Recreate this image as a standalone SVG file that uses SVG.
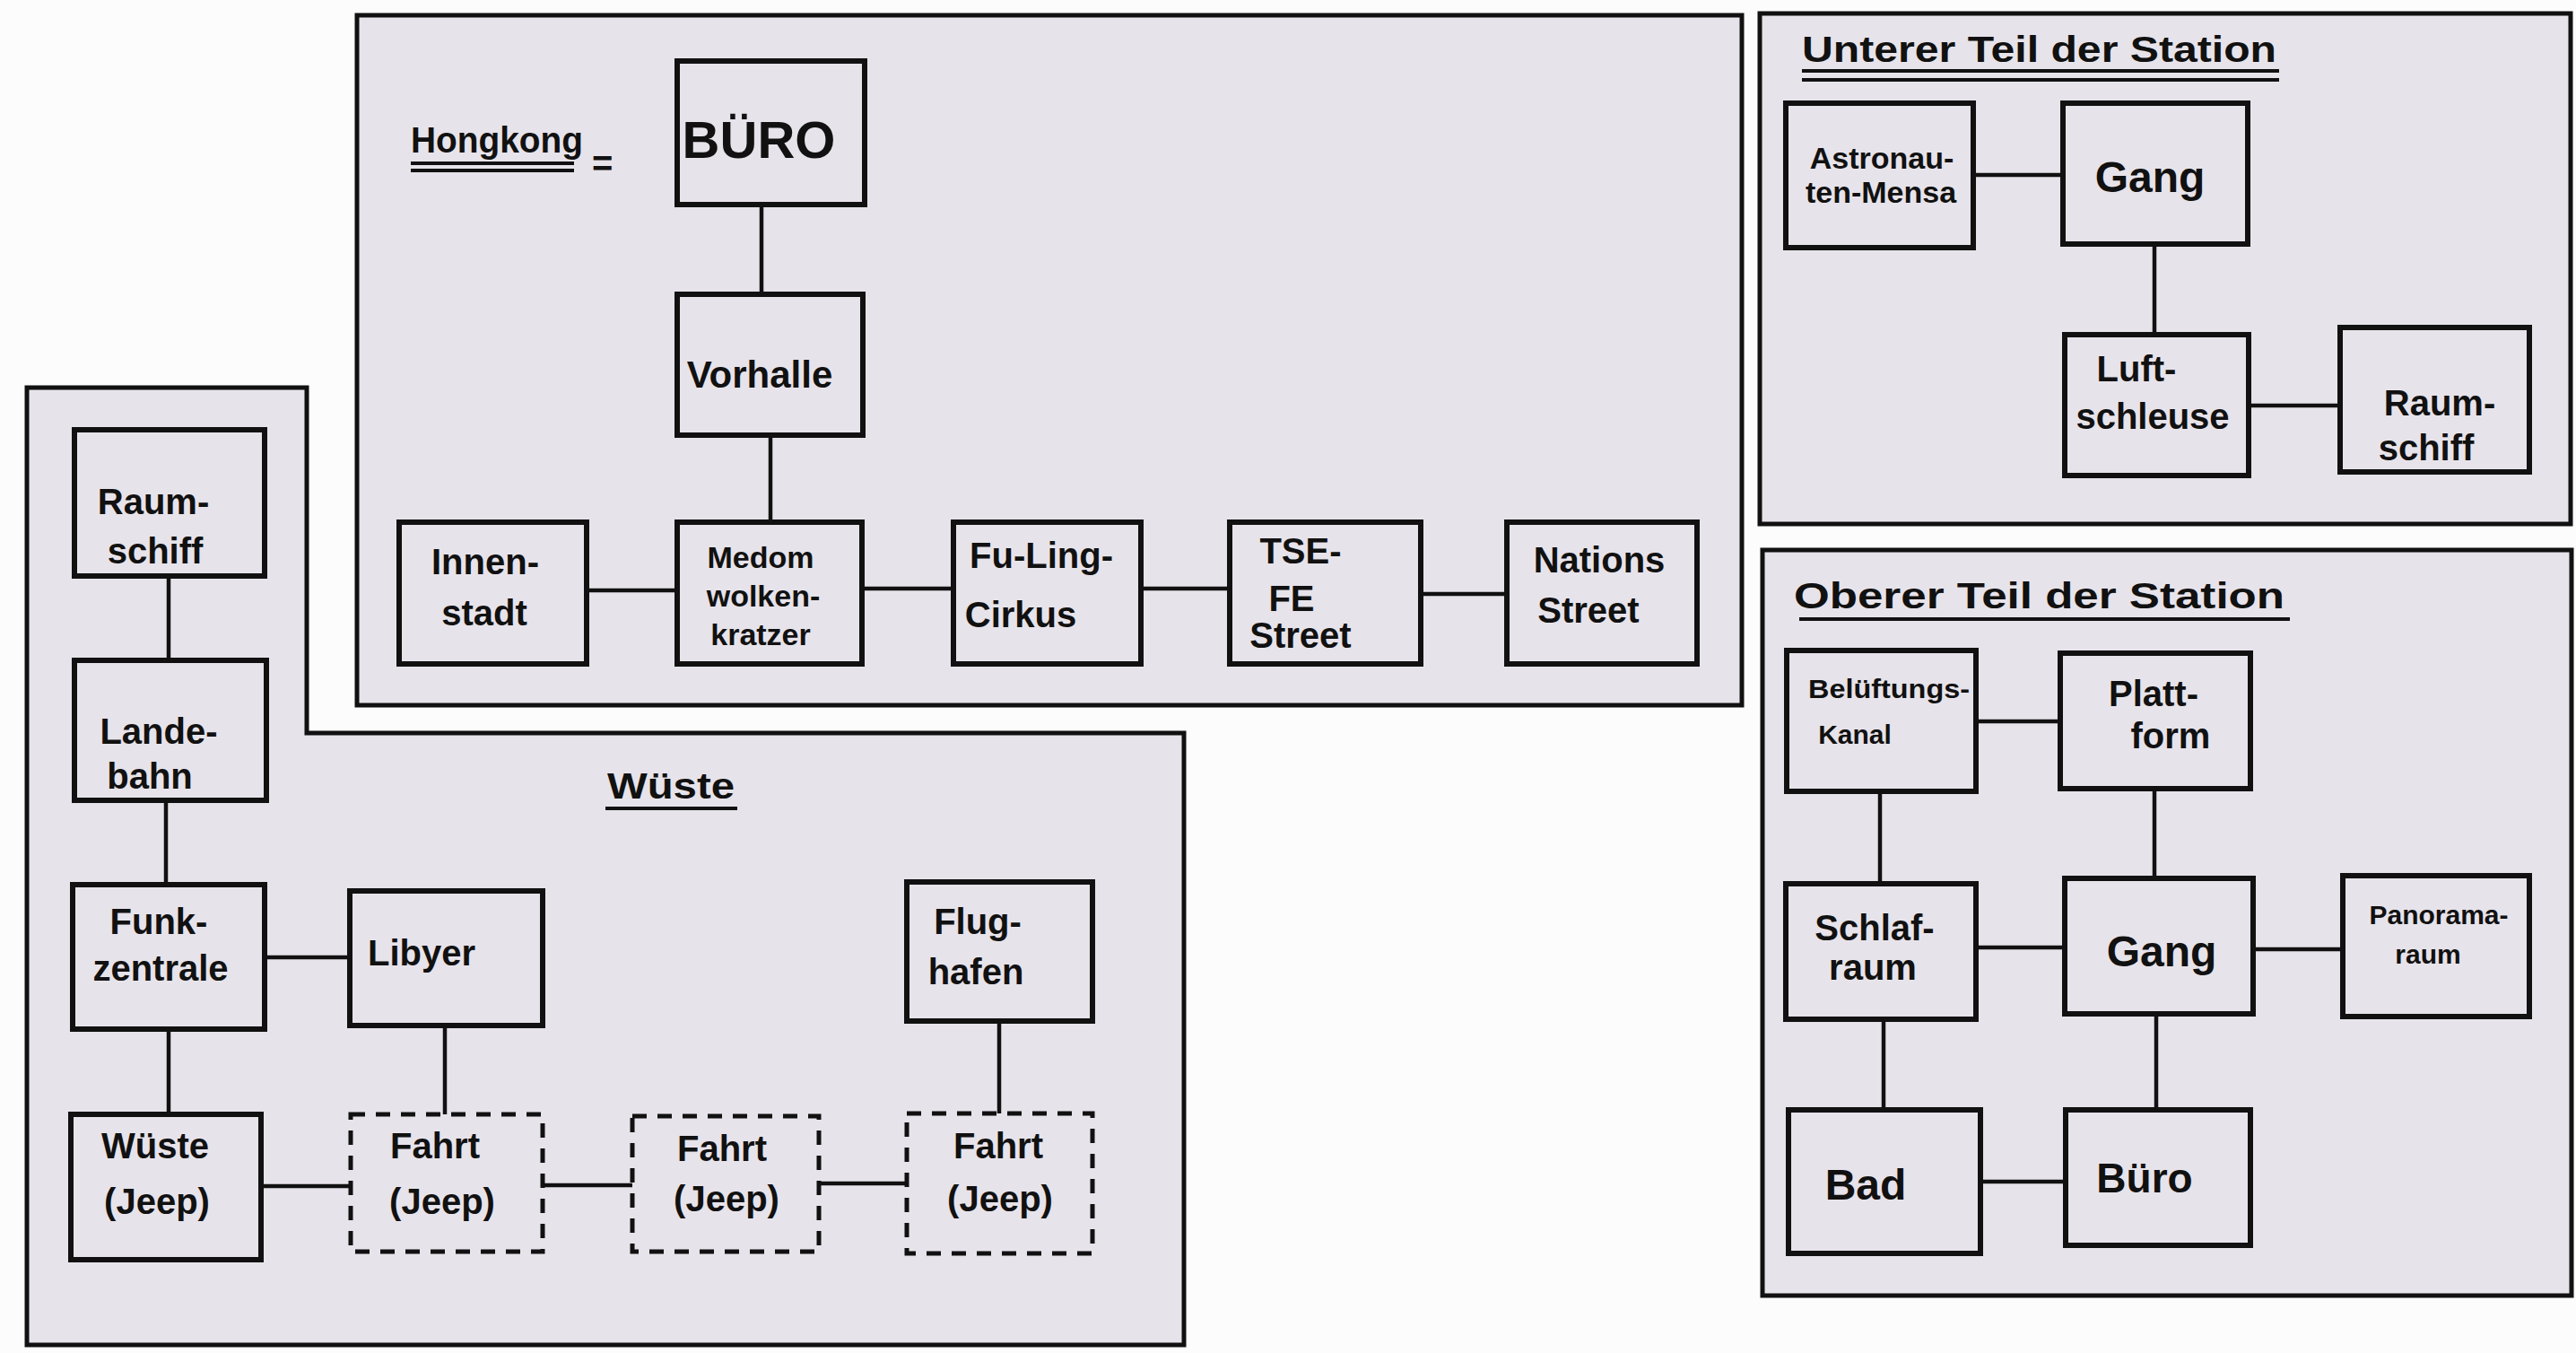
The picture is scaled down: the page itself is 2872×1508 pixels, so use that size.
<svg xmlns="http://www.w3.org/2000/svg" width="2872" height="1508" viewBox="0 0 2872 1508">
<style>
.panel{fill:#e7e3ea;stroke:#111;stroke-width:5}
.box{fill:none;stroke:#111;stroke-width:6}
.dash{fill:none;stroke:#111;stroke-width:5;stroke-dasharray:16 12}
.con line{stroke:#111;stroke-width:4.5}
.ul{stroke:#111;stroke-width:4}
text{font-family:"Liberation Sans","DejaVu Sans",sans-serif;font-weight:bold;fill:#111;text-anchor:middle}
.t{font-size:40px}
.s{font-size:34px}
.xs{font-size:30px}
.big{font-size:48px}
.hd{font-size:40px;text-anchor:start}
</style>
<rect width="2872" height="1508" fill="#fcfcfc"/>
<g id="panels">
<rect id="panel-hongkong" class="panel" x="398" y="17" width="1544" height="769"/>
<polygon id="panel-wueste" class="panel" points="30,432 342,432 342,817 1320,817 1320,1499 30,1499"/>
<rect id="panel-unterer" class="panel" x="1962" y="15" width="904" height="569"/>
<rect id="panel-oberer" class="panel" x="1965" y="613" width="902" height="831"/>
</g>
<g id="titles">
<text class="hd" x="458" y="170" textLength="192" lengthAdjust="spacingAndGlyphs">Hongkong</text>
<text class="hd" x="660" y="196" font-size="40">=</text>
<line class="ul" x1="458" y1="182" x2="640" y2="182"/>
<line class="ul" x1="458" y1="190" x2="640" y2="190"/>
<text class="hd" x="677" y="890" textLength="142" lengthAdjust="spacingAndGlyphs">Wüste</text>
<line class="ul" x1="675" y1="901" x2="822" y2="901"/>
<text class="hd" x="2009" y="69" textLength="529" lengthAdjust="spacingAndGlyphs">Unterer Teil der Station</text>
<line class="ul" x1="2009" y1="79" x2="2541" y2="79"/>
<line class="ul" x1="2009" y1="89" x2="2541" y2="89"/>
<text class="hd" x="2000" y="678" textLength="547" lengthAdjust="spacingAndGlyphs">Oberer Teil der Station</text>
<line class="ul" x1="2006" y1="690" x2="2553" y2="690"/>
</g>
<g id="connectors" class="con">
<line x1="849" y1="228" x2="849" y2="328"/>
<line x1="859" y1="485" x2="859" y2="582"/>
<line x1="654" y1="658" x2="755" y2="658"/>
<line x1="961" y1="656" x2="1063" y2="656"/>
<line x1="1272" y1="656" x2="1371" y2="656"/>
<line x1="1584" y1="662" x2="1680" y2="662"/>
<line x1="188" y1="642" x2="188" y2="736"/>
<line x1="185" y1="892" x2="185" y2="986"/>
<line x1="295" y1="1067" x2="390" y2="1067"/>
<line x1="188" y1="1147" x2="188" y2="1242"/>
<line x1="496" y1="1143" x2="496" y2="1242"/>
<line x1="1114" y1="1138" x2="1114" y2="1241"/>
<line x1="291" y1="1322" x2="391" y2="1322"/>
<line x1="605" y1="1321" x2="705" y2="1321"/>
<line x1="913" y1="1319" x2="1011" y2="1319"/>
<line x1="2200" y1="195" x2="2300" y2="195"/>
<line x1="2402" y1="272" x2="2402" y2="373"/>
<line x1="2507" y1="452" x2="2609" y2="452"/>
<line x1="2203" y1="804" x2="2297" y2="804"/>
<line x1="2096" y1="882" x2="2096" y2="985"/>
<line x1="2402" y1="879" x2="2402" y2="979"/>
<line x1="2203" y1="1056" x2="2302" y2="1056"/>
<line x1="2512" y1="1058" x2="2612" y2="1058"/>
<line x1="2100" y1="1136" x2="2100" y2="1237"/>
<line x1="2404" y1="1130" x2="2404" y2="1237"/>
<line x1="2208" y1="1317" x2="2303" y2="1317"/>
</g>
<g id="hk-buero"><rect class="box" x="755" y="68" width="209" height="160"/><text x="846" y="176" font-size="58">BÜRO</text></g>
<g id="hk-vorhalle"><rect class="box" x="755" y="328" width="207" height="157"/><text x="847" y="432" font-size="42">Vorhalle</text></g>
<g id="hk-innenstadt"><rect class="box" x="445" y="582" width="209" height="158"/><text class="t" x="541" y="640">Innen-</text><text class="t" x="540" y="697">stadt</text></g>
<g id="hk-medom"><rect class="box" x="755" y="582" width="206" height="158"/><text class="s" x="848" y="633">Medom</text><text class="s" x="851" y="676">wolken-</text><text class="s" x="848" y="719">kratzer</text></g>
<g id="hk-fuling"><rect class="box" x="1063" y="582" width="209" height="158"/><text class="t" x="1161" y="633">Fu-Ling-</text><text class="t" x="1138" y="699">Cirkus</text></g>
<g id="hk-tsefe"><rect class="box" x="1371" y="582" width="213" height="158"/><text class="t" x="1450" y="628">TSE-</text><text class="t" x="1440" y="681">FE</text><text class="t" x="1450" y="722">Street</text></g>
<g id="hk-nations"><rect class="box" x="1680" y="582" width="212" height="158"/><text class="t" x="1783" y="638">Nations</text><text class="t" x="1771" y="694">Street</text></g>
<g id="w-raumschiff"><rect class="box" x="83" y="479" width="212" height="163"/><text class="t" x="171" y="573">Raum-</text><text class="t" x="173" y="628">schiff</text></g>
<g id="w-landebahn"><rect class="box" x="83" y="736" width="214" height="156"/><text class="t" x="177" y="829">Lande-</text><text class="t" x="167" y="879">bahn</text></g>
<g id="w-funkzentrale"><rect class="box" x="81" y="986" width="214" height="161"/><text class="t" x="177" y="1041">Funk-</text><text class="t" x="179" y="1093">zentrale</text></g>
<g id="w-libyer"><rect class="box" x="390" y="993" width="215" height="150"/><text class="t" x="470" y="1076">Libyer</text></g>
<g id="w-flughafen"><rect class="box" x="1011" y="983" width="207" height="155"/><text class="t" x="1090" y="1041">Flug-</text><text class="t" x="1088" y="1097">hafen</text></g>
<g id="w-wueste-jeep"><rect class="box" x="79" y="1242" width="212" height="162"/><text class="t" x="173" y="1291">Wüste</text><text class="t" x="175" y="1353">(Jeep)</text></g>
<g id="w-fahrt1"><rect class="dash" x="391" y="1242" width="214" height="153"/><text class="t" x="485" y="1291">Fahrt</text><text class="t" x="493" y="1353">(Jeep)</text></g>
<g id="w-fahrt2"><rect class="dash" x="705" y="1244" width="208" height="151"/><text class="t" x="805" y="1294">Fahrt</text><text class="t" x="810" y="1350">(Jeep)</text></g>
<g id="w-fahrt3"><rect class="dash" x="1011" y="1241" width="207" height="156"/><text class="t" x="1113" y="1291">Fahrt</text><text class="t" x="1115" y="1350">(Jeep)</text></g>
<g id="u-mensa"><rect class="box" x="1991" y="115" width="209" height="161"/><text class="s" x="2098" y="188">Astronau-</text><text class="s" x="2097" y="226">ten-Mensa</text></g>
<g id="u-gang"><rect class="box" x="2300" y="115" width="206" height="157"/><text class="big" x="2397" y="214">Gang</text></g>
<g id="u-luftschleuse"><rect class="box" x="2302" y="373" width="205" height="157"/><text class="t" x="2382" y="425">Luft-</text><text class="t" x="2400" y="478">schleuse</text></g>
<g id="u-raumschiff"><rect class="box" x="2609" y="365" width="211" height="161"/><text class="t" x="2720" y="463">Raum-</text><text class="t" x="2705" y="513">schiff</text></g>
<g id="o-belueftung"><rect class="box" x="1992" y="725" width="211" height="157"/><text class="xs" x="2106" y="778" textLength="180" lengthAdjust="spacingAndGlyphs">Belüftungs-</text><text class="xs" x="2068" y="829">Kanal</text></g>
<g id="o-plattform"><rect class="box" x="2297" y="728" width="212" height="151"/><text class="t" x="2401" y="787">Platt-</text><text class="t" x="2420" y="834">form</text></g>
<g id="o-schlafraum"><rect class="box" x="1991" y="985" width="212" height="151"/><text class="t" x="2090" y="1048">Schlaf-</text><text class="t" x="2088" y="1092">raum</text></g>
<g id="o-gang"><rect class="box" x="2302" y="979" width="210" height="151"/><text class="big" x="2410" y="1077">Gang</text></g>
<g id="o-panorama"><rect class="box" x="2612" y="976" width="208" height="157"/><text class="xs" x="2719" y="1030">Panorama-</text><text class="xs" x="2707" y="1074">raum</text></g>
<g id="o-bad"><rect class="box" x="1994" y="1237" width="214" height="160"/><text class="big" x="2080" y="1337">Bad</text></g>
<g id="o-buero"><rect class="box" x="2303" y="1237" width="206" height="151"/><text x="2391" y="1329" font-size="46">Büro</text></g>
</svg>
